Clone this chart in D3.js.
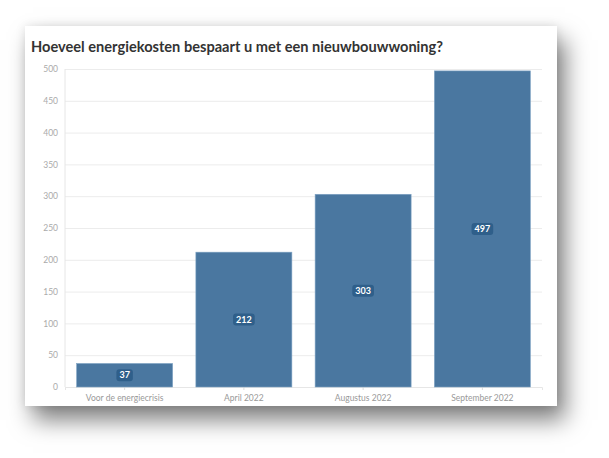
<!DOCTYPE html>
<html><head><meta charset="utf-8">
<script src="https://cdn.jsdelivr.net/npm/d3@7"></script>
<style>
body{margin:0;background:#fff;width:609px;height:458px;overflow:hidden;}
#card{position:absolute;left:25px;top:26px;width:532px;height:380px;background:#fff;
box-shadow:8px 14px 22px rgba(0,0,0,0.5), 0 0 10px rgba(0,0,0,0.1);}
svg{position:absolute;left:0;top:0;}
</style></head><body>
<div id="card"></div>
<svg id="chart" width="609" height="458"></svg>
<script>
const title = "Hoeveel energiekosten bespaart u met een nieuwbouwwoning?";
const categories = ["Voor de energiecrisis","April 2022","Augustus 2022","September 2022"];
const values = [37,212,303,497];
const yTicks = [0,50,100,150,200,250,300,350,400,450,500];

const svg = d3.select("#chart");
const font = "Lato, 'Noto Sans', sans-serif";
const pLeft=65, pRight=542, pTop=69, pBottom=387;

svg.append("text").attr("x",31).attr("y",52).text(title)
  .attr("font-family",font).attr("font-weight",700).attr("font-size",15.5).attr("fill","#333")
  .attr("textLength",412).attr("lengthAdjust","spacingAndGlyphs");

const x = d3.scaleBand().domain(categories).range([pLeft,pRight]).paddingInner(0.195).paddingOuter(0.0975);
const y = d3.scaleLinear().domain([0,500]).range([pBottom,pTop]);

const gy = svg.append("g").attr("transform",`translate(${pLeft},0)`)
  .call(d3.axisLeft(y).tickValues(yTicks).tickSize(-(pRight-pLeft)).tickPadding(7));
gy.select(".domain").remove();
gy.selectAll(".tick line").attr("stroke","#ececec");
gy.selectAll(".tick text").attr("fill","#aaa").attr("font-family",font).attr("font-size",8.5);

svg.append("line").attr("x1",pLeft).attr("x2",pLeft).attr("y1",pTop).attr("y2",pBottom).attr("stroke","#e6e6e6");

const gx = svg.append("g").attr("transform",`translate(0,${pBottom})`)
  .call(d3.axisBottom(x).tickSize(3).tickPadding(5));
gx.select(".domain").attr("stroke","#e6e6e6");
gx.selectAll(".tick line").attr("stroke","#ddd");
gx.selectAll(".tick text").attr("fill","#999").attr("font-family",font).attr("font-size",8.5);

svg.selectAll("rect.bar").data(values).join("rect").attr("class","bar")
  .attr("x",(d,i)=>x(categories[i])).attr("width",x.bandwidth())
  .attr("y",d=>y(d)).attr("height",d=>pBottom-y(d))
  .attr("fill","#4a77a0").attr("stroke","#7fa3c4").attr("stroke-width",0.6);

const lg = svg.selectAll("g.lab").data(values).join("g").attr("class","lab")
  .attr("transform",(d,i)=>`translate(${x(categories[i])+x.bandwidth()/2},${(y(d)+pBottom)/2})`);
lg.each(function(d){
  const g=d3.select(this);
  const t=g.append("text").text(d).attr("text-anchor","middle").attr("dy","0.35em")
    .attr("font-family",font).attr("font-weight",700).attr("font-size",9).attr("fill","#fff");
  const w=t.node().getComputedTextLength();
  g.insert("rect","text").attr("x",-w/2-3).attr("y",-6).attr("width",w+6).attr("height",12)
    .attr("rx",3).attr("fill","#2f5f8a");
});
</script></body></html>
